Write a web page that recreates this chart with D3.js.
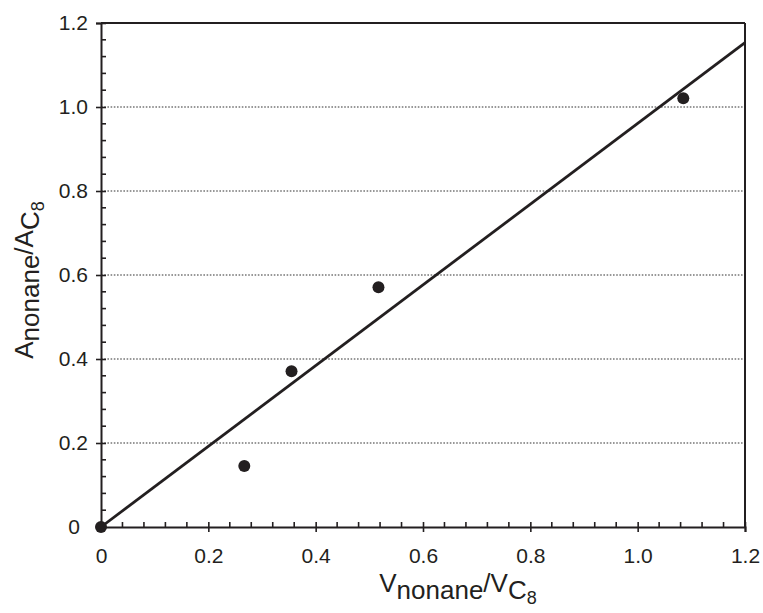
<!DOCTYPE html>
<html><head><meta charset="utf-8">
<script src="https://cdn.jsdelivr.net/npm/d3@7"></script>
<style>
body{margin:0;background:#fff}
text{font-family:"Liberation Sans",Arial,Helvetica,sans-serif;fill:#231f20}
</style>
</head><body>
<svg id="c" width="763" height="613"></svg>
<script>
// ---- data ----
const xTicks = [0, 0.2, 0.4, 0.6, 0.8, 1.0, 1.2];
const xTickLabels = ["0", "0.2", "0.4", "0.6", "0.8", "1.0", "1.2"];
const yTicks = [0, 0.2, 0.4, 0.6, 0.8, 1.0, 1.2];
const yTickLabels = ["0", "0.2", "0.4", "0.6", "0.8", "1.0", "1.2"];
const gridValues = [0.2, 0.4, 0.6, 0.8, 1.0];
const volumeRatio = [0, 0.267, 0.355, 0.517, 1.085];
const areaRatio   = [0, 0.145, 0.371, 0.571, 1.021];
const fitX = [0, 1.2];
const fitY = [0, 1.153];

// ---- layout ----
const L = 101, R = 745, T = 23, B = 527;
const ink = "#231f20";
const svg = d3.select("#c");
const x = d3.scaleLinear().domain([0, 1.2]).range([L, R]);
const y = d3.scaleLinear().domain([0, 1.2]).range([B, T]);

const minor = d3.range(0, 1.2001, 0.04).filter(v => Math.abs(Math.round(v / 0.2) * 0.2 - v) > 1e-6);

// grid
svg.append("g").selectAll("line").data(gridValues).join("line")
  .attr("x1", L).attr("x2", R)
  .attr("y1", d => y(d)).attr("y2", d => y(d))
  .attr("stroke", "#333").attr("stroke-width", 1.1).attr("stroke-dasharray", "1.6,1.6");

// frame top/right
svg.append("line").attr("x1", L).attr("x2", R).attr("y1", T).attr("y2", T).attr("stroke", ink).attr("stroke-width", 2);
svg.append("line").attr("x1", R).attr("x2", R).attr("y1", T).attr("y2", B).attr("stroke", ink).attr("stroke-width", 2);

// x axis
const gx = svg.append("g").attr("transform", `translate(0,${B})`)
  .call(d3.axisBottom(x).tickValues(xTicks).tickFormat((d, i) => xTickLabels[i]).tickSize(5).tickPadding(16));
gx.select(".domain").attr("stroke", ink).attr("stroke-width", 2);
gx.selectAll(".tick line").attr("y1", -5).attr("stroke", ink).attr("stroke-width", 1.6);
gx.selectAll(".tick text").attr("font-size", 21).attr("fill", ink);
gx.append("g").selectAll("line").data(minor).join("line")
  .attr("x1", d => x(d)).attr("x2", d => x(d)).attr("y1", 0).attr("y2", -5)
  .attr("stroke", ink).attr("stroke-width", 1.6);

// y axis
const gy = svg.append("g").attr("transform", `translate(${L},0)`)
  .call(d3.axisLeft(y).tickValues(yTicks).tickFormat((d, i) => yTickLabels[i]).tickSize(5).tickPadding(8));
gy.select(".domain").attr("stroke", ink).attr("stroke-width", 2);
gy.selectAll(".tick line").attr("x1", 5).attr("stroke", ink).attr("stroke-width", 1.6);
gy.selectAll(".tick text").attr("font-size", 21).attr("fill", ink)
  .attr("dx", d => d === 0 ? -8 : 0);
gy.append("g").selectAll("line").data(minor).join("line")
  .attr("y1", d => y(d)).attr("y2", d => y(d)).attr("x1", 0).attr("x2", 5)
  .attr("stroke", ink).attr("stroke-width", 1.6);

// fit line
svg.append("line")
  .attr("x1", x(fitX[0])).attr("y1", y(fitY[0]))
  .attr("x2", x(fitX[1])).attr("y2", y(fitY[1]))
  .attr("stroke", ink).attr("stroke-width", 2.8);

// points
svg.append("g").selectAll("circle").data(volumeRatio).join("circle")
  .attr("cx", d => x(d)).attr("cy", (d, i) => y(areaRatio[i]))
  .attr("r", 6).attr("fill", ink);

// x title
const xt = svg.append("text").attr("x", 458).attr("y", 592).attr("text-anchor", "middle").attr("font-size", 26);
xt.append("tspan").text("V");
xt.append("tspan").attr("dy", 7).text("nonane");
xt.append("tspan").attr("dy", -7).text("/V");
xt.append("tspan").attr("dy", 7).text("C");
xt.append("tspan").attr("dy", 5).attr("font-size", 18).text("8");

// y title
const yt = svg.append("text").attr("transform", "translate(33,280) rotate(-90)")
  .attr("text-anchor", "middle").attr("font-size", 26);
yt.append("tspan").text("A");
yt.append("tspan").attr("dy", 6).text("nonane");
yt.append("tspan").attr("dy", -6).text("/A");
yt.append("tspan").attr("dy", 6).text("C");
yt.append("tspan").attr("dy", 5).attr("font-size", 18).text("8");
</script>
</body></html>
